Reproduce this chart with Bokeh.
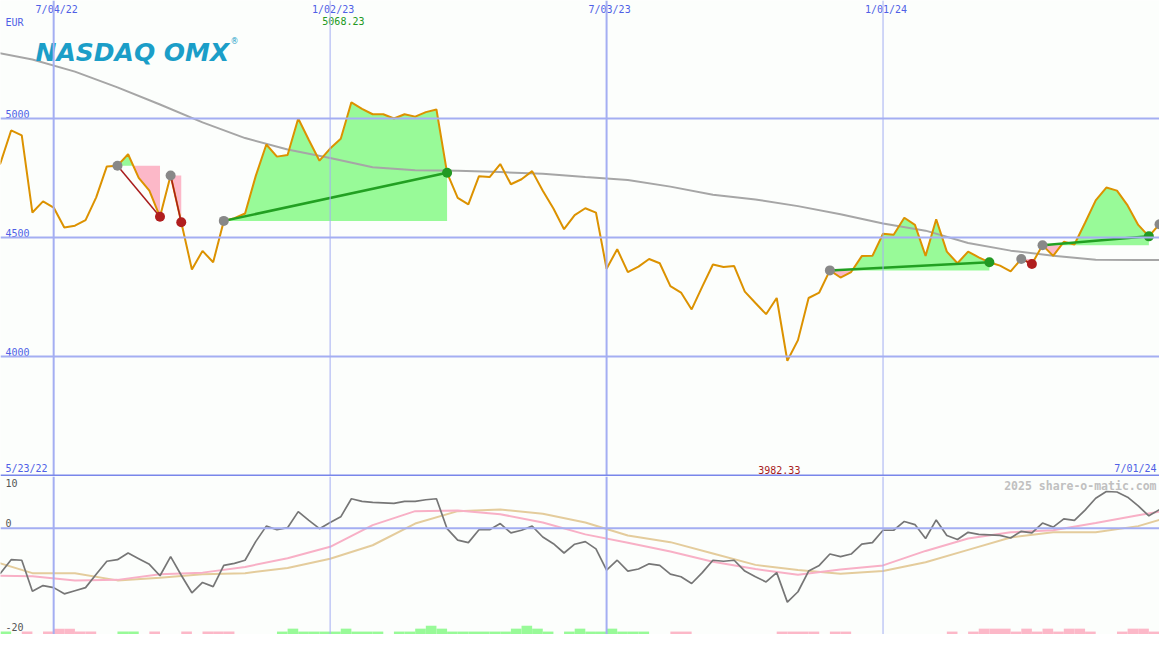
import numpy as np
from datetime import datetime, timezone
from bokeh.plotting import figure
from bokeh.layouts import column
from bokeh.models import Range1d, Span
from bokeh.core.properties import value
from bokeh.embed import file_html
from bokeh.resources import INLINE

# ---------------- data ----------------
first_week = "2022-05-23"          # weekly closes start here
price = [
    4758, 4813, 4950, 4929, 4605, 4652, 4626, 4542, 4550, 4573,
    4669, 4799, 4802, 4850, 4751, 4697, 4587, 4761, 4564, 4366,
    4444, 4396, 4570, 4581, 4601, 4758, 4891, 4840, 4847, 5000,
    4910, 4823, 4874, 4915, 5068.23, 5041, 5018, 5018, 5000, 5018,
    5008, 5027, 5038, 4772, 4667, 4639, 4758, 4754, 4809, 4724,
    4745, 4779, 4697, 4622, 4535, 4594, 4623, 4605, 4369, 4451,
    4355, 4378, 4410, 4392, 4296, 4269, 4198, 4294, 4387, 4376,
    4380, 4273, 4225, 4178, 4246, 3982.33, 4069, 4246, 4269, 4362,
    4332, 4355, 4422, 4423, 4516, 4512, 4583, 4553, 4423, 4577,
    4441, 4392, 4441, 4417, 4396, 4382, 4358, 4410, 4389, 4468,
    4423, 4482, 4471, 4562, 4656, 4710, 4697, 4635, 4553, 4505,
    4556,
]
ma_weeks = [0, 4, 8, 12, 16, 20, 24, 28, 32, 36, 40, 44, 48, 52, 56, 60,
            64, 68, 72, 76, 80, 84, 88, 92, 96, 100, 104, 108, 110]
ma_price = [5283, 5248, 5197, 5131, 5059, 4984, 4918, 4870, 4834, 4795,
            4783, 4781, 4775, 4768, 4754, 4742, 4714, 4680, 4660, 4632,
            4598, 4559, 4529, 4477, 4445, 4424, 4407, 4406, 4406]
momentum = [
    -9.2, -8.7, -6.1, -6.2, -12.2, -11.1, -11.5, -12.7, -12.1, -11.5,
    -8.9, -6.4, -6.1, -4.8, -5.9, -7.0, -9.2, -5.5, -9.1, -12.5,
    -10.5, -11.3, -7.2, -6.8, -6.2, -2.6, 0.4, -0.3, 0.1, 3.2,
    1.5, -0.1, 1.1, 2.2, 5.7, 5.2, 5.0, 4.9, 4.8, 5.2,
    5.2, 5.5, 5.7, -0.1, -2.3, -2.8, -0.3, -0.3, 0.9, -0.9,
    -0.4, 0.4, -1.7, -3.0, -4.8, -3.1, -2.6, -4.0, -8.1, -6.2,
    -8.3, -7.9, -6.9, -7.2, -8.9, -9.4, -10.7, -8.6, -6.2, -6.4,
    -6.2, -8.3, -9.4, -10.4, -8.6, -14.3, -12.3, -8.3, -7.2, -5.0,
    -5.5, -5.0, -3.1, -2.8, -0.4, -0.4, 1.3, 0.7, -2.0, 1.6,
    -1.4, -2.2, -0.8, -1.2, -1.3, -1.4, -1.9, -0.6, -0.9, 1.0,
    0.2, 1.8, 1.5, 3.5, 5.8, 7.1, 7.0, 6.0, 4.3, 2.4,
    3.6,
]
mom_fast = [-9.2, -9.3, -10.1, -10.0, -8.9, -8.6, -7.5, -5.8, -3.6, 0.6,
            3.3, 3.4, 2.7, 1.1, -1.2, -2.8, -4.5, -6.5, -7.9, -9.0,
            -8.0, -7.2, -4.4, -2.0, -0.8, -0.4, 1.0, 2.5, 3.2]
mom_slow = [-6.2, -8.7, -8.7, -10.1, -9.6, -8.9, -8.7, -7.7, -5.9, -3.3,
            0.9, 3.3, 3.6, 2.8, 1.1, -1.4, -2.7, -4.9, -7.1, -8.1,
            -8.8, -8.3, -6.6, -4.2, -1.8, -0.8, -0.8, 0.4, 1.6]
signal = [
    0, 1, 0, -1, 0, -1, -2, -2, -1, -1,
    0, 0, 1, 1, 0, -1, 0, 0, -1, 0,
    -1, -1, -1, 0, 0, 0, 0, 1, 2, 1,
    1, 1, 1, 2, 1, 1, 1, 0, 1, 1,
    2, 3, 2, 1, 1, 1, 1, 1, 1, 2,
    3, 2, 1, 0, 1, 2, 1, 1, 2, 1,
    1, 1, 0, 0, -1, -1, 0, 0, 0, 0,
    0, 0, 0, 0, -1, -1, -1, -1, 0, -1,
    -1, 0, 0, 0, 0, 0, 0, 0, 0, 0,
    -1, 0, -1, -2, -2, -2, -1, -2, -1, -2,
    -1, -2, -2, -1, 0, 0, -1, -2, -2, -1,
    0,
]
trades = [(12, 16), (17, 18), (22, 43), (79, 94), (97, 98), (99, 109)]
open_entries = [110]
grid_weeks = [6, 32, 58, 84]
grid_widths = [2, 1, 2, 1]
price_ticks = [4000, 4500, 5000]
ind_ticks = [10, 0, -20]
currency = "EUR"
brand = "NASDAQ OMX"
copyright_text = "2025 share-o-matic.com"

# ---------------- helpers ----------------
WEEK_MS = 7 * 24 * 3600 * 1000
t0 = np.datetime64(first_week, "ms").astype("int64")
n = len(price)
xs = [float(t0 + i * WEEK_MS) for i in range(n)]


def date_label(ms):
    d = datetime.fromtimestamp(ms / 1000, tz=timezone.utc)
    return f"{d.month}/{d.day:02d}/{d.year % 100:02d}"


W, H1, H2 = 1159, 476, 158
BG = "#fcfefc"
GRID = "#a4aef2"
SEP = "#7886ea"
BLUE_TXT = "#4f5fe6"
MONO = value("DejaVu Sans Mono")
GREEN_FILL = "#98fa98"
PINK_FILL = "#fcb8c8"
GREEN = "#22a022"
RED = "#a81c1c"

xr = Range1d(xs[1], xs[n - 1])
Y0, Y1 = 3496, 5496


def base_fig(h, yr):
    p = figure(width=W, height=h, x_range=xr, y_range=yr,
               toolbar_location=None, output_backend="svg",
               x_axis_location=None, y_axis_location=None, min_border=0,
               background_fill_color=BG, border_fill_color=BG,
               outline_line_color=None)
    p.xgrid.visible = False
    p.ygrid.visible = False
    return p


# ---------------- price panel ----------------
p1 = base_fig(H1, Range1d(Y0, Y1))
for t in price_ticks:
    p1.add_layout(Span(location=t, dimension="width", line_color=GRID, line_width=2))
for wk, lw in zip(grid_weeks, grid_widths):
    p1.add_layout(Span(location=xs[wk], dimension="height", line_color=GRID, line_width=lw))
p1.add_layout(Span(location=3500, dimension="width", line_color=SEP, line_width=2))

# trade fills (green where price above entry, pink where below)
for a, b in trades:
    entry = price[a]
    px, py = [], []
    for k in range(a, b + 1):
        if k > a:
            d0, d1 = price[k - 1] - entry, price[k] - entry
            if d0 * d1 < 0:
                t = d0 / (d0 - d1)
                px.append(xs[k - 1] + t * (xs[k] - xs[k - 1]))
                py.append(entry)
        px.append(xs[k])
        py.append(price[k])
    p1.varea(x=px, y1=[entry] * len(px), y2=[max(v, entry) for v in py],
             fill_color=GREEN_FILL)
    p1.varea(x=px, y1=[min(v, entry) for v in py], y2=[entry] * len(px),
             fill_color=PINK_FILL)

p1.line([xs[i] for i in ma_weeks], ma_price, line_color="#a6a6a6", line_width=2)
p1.line(xs, price, line_color="#dc9200", line_width=2)

for a, b in trades:
    win = price[b] > price[a]
    p1.line([xs[a], xs[b]], [price[a], price[b]],
            line_color=GREEN if win else RED, line_width=2.5 if win else 1.5)
entries = [a for a, _ in trades] + open_entries
p1.scatter([xs[i] for i in entries], [price[i] for i in entries],
           size=10, fill_color="#888888", line_color=None)
exits_w = [b for a, b in trades if price[b] > price[a]]
exits_l = [b for a, b in trades if price[b] <= price[a]]
p1.scatter([xs[i] for i in exits_w], [price[i] for i in exits_w],
           size=10, fill_color="#229922", line_color=None)
p1.scatter([xs[i] for i in exits_l], [price[i] for i in exits_l],
           size=10, fill_color="#b01e1e", line_color=None)

# tick labels and annotations
p1.text(x=[xs[w] for w in grid_weeks], y=[Y1] * len(grid_weeks),
        text=[date_label(xs[w]) for w in grid_weeks], text_align="center",
        text_baseline="top", x_offset=3, y_offset=3, text_font=MONO,
        text_font_size="10px", text_color=BLUE_TXT)
p1.text(x=[xr.start] * len(price_ticks), y=price_ticks,
        text=[str(t) for t in price_ticks], text_align="left",
        text_baseline="bottom", x_offset=5, y_offset=-1, text_font=MONO,
        text_font_size="10px", text_color=BLUE_TXT)
p1.text(x=[xr.start], y=[Y1], text=[currency], text_align="left",
        text_baseline="top", x_offset=5, y_offset=16, text_font=MONO,
        text_font_size="10px", text_color=BLUE_TXT)
imax = int(np.argmax(price))
imin = int(np.argmin(price))
p1.text(x=[xs[imax]], y=[Y1], text=[f"{price[imax]:.2f}"], text_align="center",
        text_baseline="top", x_offset=-8, y_offset=16, text_font=MONO,
        text_font_size="10px", text_color="#229922")
p1.text(x=[xs[imin]], y=[Y0], text=[f"{price[imin]:.2f}"], text_align="center",
        text_baseline="bottom", x_offset=-8, y_offset=-3, text_font=MONO,
        text_font_size="10px", text_color="#a81c1c")
p1.text(x=[xr.start], y=[Y0], text=[date_label(xs[0])], text_align="left",
        text_baseline="bottom", x_offset=5, y_offset=-3, text_font=MONO,
        text_font_size="10px", text_color=BLUE_TXT)
p1.text(x=[xr.end], y=[Y0], text=[date_label(xs[n - 1])], text_align="right",
        text_baseline="bottom", x_offset=-3, y_offset=-3, text_font=MONO,
        text_font_size="10px", text_color=BLUE_TXT)
p1.text(x=[xr.start], y=[Y1], text=[brand], text_align="left",
        text_baseline="alphabetic", x_offset=35, y_offset=52,
        text_font=value("DejaVu Sans"), text_font_style="bold italic",
        text_font_size="25px", text_color="#1b9ec8")
p1.text(x=[xr.start], y=[Y1], text=["®"], text_align="left",
        text_baseline="alphabetic", x_offset=230, y_offset=41,
        text_font=value("DejaVu Sans"), text_font_size="8px", text_color="#1b9ec8")

# ---------------- indicator panel ----------------
I0, I1 = -20.57, 10.0
p2 = base_fig(H2, Range1d(I0, I1))
p2.add_layout(Span(location=0, dimension="width", line_color=GRID, line_width=2))
for wk, lw in zip(grid_weeks, grid_widths):
    p2.add_layout(Span(location=xs[wk], dimension="height", line_color=GRID, line_width=lw))

bar_unit = 0.566
bars = [i for i in range(n) if signal[i] != 0]
p2.quad(left=[xs[i] for i in bars], right=[xs[i] + WEEK_MS for i in bars],
        bottom=[I0] * len(bars), top=[I0 + abs(signal[i]) * bar_unit for i in bars],
        fill_color=[GREEN_FILL if signal[i] > 0 else PINK_FILL for i in bars],
        line_color=None)

p2.line([xs[i] for i in ma_weeks], mom_slow, line_color="#e4cc9c", line_width=2)
p2.line([xs[i] for i in ma_weeks], mom_fast, line_color="#f8b0c6", line_width=2)
p2.line(xs, momentum, line_color="#767676", line_width=1.7)

p2.text(x=[xr.start] * 3, y=ind_ticks, text=[str(t) for t in ind_ticks],
        text_align="left", text_baseline=["top", "bottom", "bottom"],
        x_offset=5, y_offset=[2, -1, -1], text_font=MONO, text_font_size="10px",
        text_color="#555555")
p2.text(x=[xr.end], y=[I1], text=[copyright_text], text_align="right",
        text_baseline="top", x_offset=-3, y_offset=2, text_font=MONO,
        text_font_style="bold", text_font_size="11.5px", text_color="#c0c0c0")

layout = column(p1, p2, spacing=0)
open("out.html", "w").write(file_html(layout, INLINE))
